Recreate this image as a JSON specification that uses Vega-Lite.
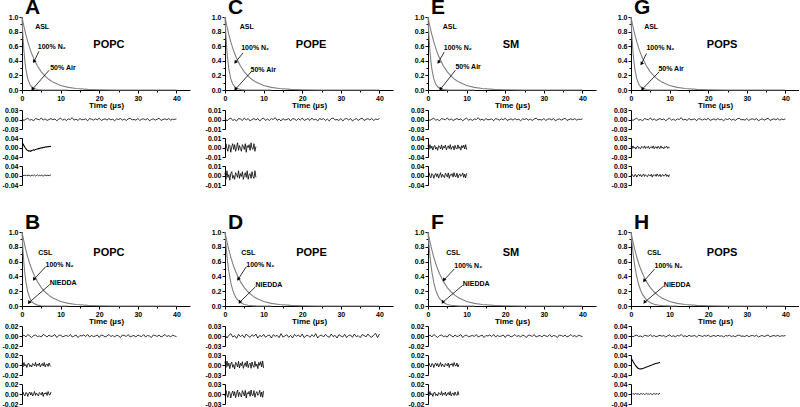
{
"$schema":"https://vega.github.io/schema/vega-lite/v6.json",
"padding":{"left":2,"top":-3,"right":0,"bottom":0},
"background":"white",
"config":{"view":{"stroke":null},
 "axis":{"labelFont":"Liberation Sans","labelFontWeight":"bold","labelFontSize":7,"labelColor":"#000","tickColor":"#000","domainColor":"#000","tickSize":3,"labelPadding":1,"grid":false,"labelFlush":false,"labelOverlap":false,"titleFont":"Liberation Sans","titleFontSize":8,"titleFontWeight":"bold","titleColor":"#000","domainWidth":1,"tickWidth":1},
 "title":{"font":"Liberation Sans","fontSize":21,"fontWeight":"bold","anchor":"start","frame":"group","color":"#000","offset":-5,"baseline":"alphabetic","dx":3},
 "text":{"font":"Liberation Sans","color":"#000"},
 "point":{"shape":"triangle-up","filled":true,"size":16,"angle":215,"color":"#000","opacity":1},
 "line":{"color":"#000","strokeWidth":0.8}},
"datasets":{
"curves":[
{"c":"n2","t":0,"v":1},{"c":"n2","t":0.25,"v":0.933},{"c":"n2","t":0.5,"v":0.87},{"c":"n2","t":0.75,"v":0.812},{"c":"n2","t":1,"v":0.757},{"c":"n2","t":1.5,"v":0.659},{"c":"n2","t":2,"v":0.574},{"c":"n2","t":2.5,"v":0.499},{"c":"n2","t":3,"v":0.435},{"c":"n2","t":4,"v":0.329},{"c":"n2","t":5,"v":0.249},{"c":"n2","t":6,"v":0.189},{"c":"n2","t":7,"v":0.143},{"c":"n2","t":8,"v":0.108},{"c":"n2","t":10,"v":0.062},{"c":"n2","t":12,"v":0.036},{"c":"n2","t":14,"v":0.02},{"c":"n2","t":17,"v":0.009},{"c":"n2","t":20,"v":0.004},{"c":"n2","t":25,"v":0.001},{"c":"n2","t":30,"v":0},{"c":"n2","t":35,"v":0},{"c":"n2","t":40,"v":0},
{"c":"air","t":0,"v":1},{"c":"air","t":0.25,"v":0.732},{"c":"air","t":0.5,"v":0.535},{"c":"air","t":0.75,"v":0.392},{"c":"air","t":1,"v":0.287},{"c":"air","t":1.5,"v":0.153},{"c":"air","t":2,"v":0.082},{"c":"air","t":2.5,"v":0.044},{"c":"air","t":3,"v":0.024},{"c":"air","t":4,"v":0.007},{"c":"air","t":5,"v":0.002},{"c":"air","t":6,"v":0.001},{"c":"air","t":8,"v":0},{"c":"air","t":12,"v":0},
{"c":"ni1","t":0,"v":1},{"c":"ni1","t":0.25,"v":0.757},{"c":"ni1","t":0.5,"v":0.574},{"c":"ni1","t":0.75,"v":0.435},{"c":"ni1","t":1,"v":0.329},{"c":"ni1","t":1.5,"v":0.189},{"c":"ni1","t":2,"v":0.108},{"c":"ni1","t":2.5,"v":0.062},{"c":"ni1","t":3,"v":0.036},{"c":"ni1","t":4,"v":0.012},{"c":"ni1","t":5,"v":0.004},{"c":"ni1","t":6,"v":0.001},{"c":"ni1","t":8,"v":0},{"c":"ni1","t":12,"v":0},
{"c":"ni2","t":0,"v":1},{"c":"ni2","t":0.25,"v":0.825},{"c":"ni2","t":0.5,"v":0.681},{"c":"ni2","t":0.75,"v":0.562},{"c":"ni2","t":1,"v":0.463},{"c":"ni2","t":1.5,"v":0.315},{"c":"ni2","t":2,"v":0.215},{"c":"ni2","t":2.5,"v":0.146},{"c":"ni2","t":3,"v":0.099},{"c":"ni2","t":4,"v":0.046},{"c":"ni2","t":5,"v":0.021},{"c":"ni2","t":6,"v":0.01},{"c":"ni2","t":7,"v":0.005},{"c":"ni2","t":8,"v":0.002},{"c":"ni2","t":10,"v":0},{"c":"ni2","t":12,"v":0},
{"c":"ni3","t":0,"v":1},{"c":"ni3","t":0.25,"v":0.855},{"c":"ni3","t":0.5,"v":0.732},{"c":"ni3","t":0.75,"v":0.626},{"c":"ni3","t":1,"v":0.535},{"c":"ni3","t":1.5,"v":0.392},{"c":"ni3","t":2,"v":0.287},{"c":"ni3","t":2.5,"v":0.21},{"c":"ni3","t":3,"v":0.153},{"c":"ni3","t":4,"v":0.082},{"c":"ni3","t":5,"v":0.044},{"c":"ni3","t":6,"v":0.024},{"c":"ni3","t":7,"v":0.013},{"c":"ni3","t":8,"v":0.007},{"c":"ni3","t":10,"v":0.002},{"c":"ni3","t":12,"v":0}
],
"L1":[{"t":0,"v":0.002},{"t":0.5,"v":-0.003},{"t":1,"v":0.001},{"t":1.5,"v":0.004},{"t":2,"v":-0.002},{"t":2.5,"v":0},{"t":3,"v":-0.004},{"t":3.5,"v":0.003},{"t":4,"v":0.001},{"t":4.5,"v":-0.001},{"t":5,"v":0.005},{"t":5.5,"v":-0.002},{"t":6,"v":0.002},{"t":6.5,"v":-0.003},{"t":7,"v":0},{"t":7.5,"v":0.003},{"t":8,"v":-0.001},{"t":8.5,"v":0.002},{"t":9,"v":-0.004},{"t":9.5,"v":0.001},{"t":10,"v":0.004},{"t":10.5,"v":-0.002},{"t":11,"v":0.001},{"t":11.5,"v":-0.003},{"t":12,"v":0.002},{"t":12.5,"v":0},{"t":13,"v":0.006},{"t":13.5,"v":-0.002},{"t":14,"v":0.001},{"t":14.5,"v":-0.003},{"t":15,"v":0.003},{"t":15.5,"v":-0.001},{"t":16,"v":0},{"t":16.5,"v":0.002},{"t":17,"v":-0.004},{"t":17.5,"v":0.003},{"t":18,"v":0.001},{"t":18.5,"v":-0.002},{"t":19,"v":0.002},{"t":19.5,"v":-0.001},{"t":20,"v":0.004},{"t":20.5,"v":-0.003},{"t":21,"v":0},{"t":21.5,"v":0.002},{"t":22,"v":-0.002},{"t":22.5,"v":0.003},{"t":23,"v":-0.001},{"t":23.5,"v":0.001},{"t":24,"v":-0.004},{"t":24.5,"v":0.002},{"t":25,"v":0},{"t":25.5,"v":0.003},{"t":26,"v":-0.002},{"t":26.5,"v":0.001},{"t":27,"v":-0.003},{"t":27.5,"v":0.002},{"t":28,"v":0.004},{"t":28.5,"v":-0.001},{"t":29,"v":0},{"t":29.5,"v":-0.002},{"t":30,"v":0.003},{"t":30.5,"v":-0.003},{"t":31,"v":0.001},{"t":31.5,"v":0.002},{"t":32,"v":-0.001},{"t":32.5,"v":0.003},{"t":33,"v":-0.004},{"t":33.5,"v":0},{"t":34,"v":0.002},{"t":34.5,"v":-0.002},{"t":35,"v":0.001},{"t":35.5,"v":0.004},{"t":36,"v":-0.003},{"t":36.5,"v":0},{"t":37,"v":0.002},{"t":37.5,"v":-0.001},{"t":38,"v":0.003},{"t":38.5,"v":-0.002},{"t":39,"v":0.001},{"t":39.5,"v":0},{"t":40,"v":0.002}],
"L2":[{"t":0,"v":-0.001},{"t":0.5,"v":0.002},{"t":1,"v":-0.002},{"t":1.5,"v":0.003},{"t":2,"v":0},{"t":2.5,"v":-0.003},{"t":3,"v":0.001},{"t":3.5,"v":0.002},{"t":4,"v":-0.001},{"t":4.5,"v":0},{"t":5,"v":-0.002},{"t":5.5,"v":0.003},{"t":6,"v":0.001},{"t":6.5,"v":-0.002},{"t":7,"v":0.002},{"t":7.5,"v":-0.001},{"t":8,"v":0},{"t":8.5,"v":0.003},{"t":9,"v":-0.003},{"t":9.5,"v":0.001},{"t":10,"v":0.002},{"t":10.5,"v":-0.002},{"t":11,"v":0},{"t":11.5,"v":0.001},{"t":12,"v":-0.001},{"t":12.5,"v":0.003},{"t":13,"v":-0.002},{"t":13.5,"v":0},{"t":14,"v":0.002},{"t":14.5,"v":-0.003},{"t":15,"v":0.001},{"t":15.5,"v":0},{"t":16,"v":0.002},{"t":16.5,"v":-0.001},{"t":17,"v":0.003},{"t":17.5,"v":-0.002},{"t":18,"v":0.001},{"t":18.5,"v":-0.001},{"t":19,"v":0},{"t":19.5,"v":0.002},{"t":20,"v":-0.003},{"t":20.5,"v":0.002},{"t":21,"v":0.001},{"t":21.5,"v":-0.002},{"t":22,"v":0},{"t":22.5,"v":0.003},{"t":23,"v":-0.001},{"t":23.5,"v":0.001},{"t":24,"v":-0.002},{"t":24.5,"v":0.002},{"t":25,"v":0},{"t":25.5,"v":-0.003},{"t":26,"v":0.002},{"t":26.5,"v":0.001},{"t":27,"v":-0.001},{"t":27.5,"v":0.003},{"t":28,"v":-0.002},{"t":28.5,"v":0},{"t":29,"v":0.001},{"t":29.5,"v":-0.002},{"t":30,"v":0.002},{"t":30.5,"v":0},{"t":31,"v":-0.001},{"t":31.5,"v":0.003},{"t":32,"v":-0.002},{"t":32.5,"v":0.001},{"t":33,"v":0},{"t":33.5,"v":-0.003},{"t":34,"v":0.002},{"t":34.5,"v":0.001},{"t":35,"v":-0.001},{"t":35.5,"v":0.002},{"t":36,"v":-0.002},{"t":36.5,"v":0},{"t":37,"v":0.003},{"t":37.5,"v":-0.001},{"t":38,"v":0.001},{"t":38.5,"v":-0.002},{"t":39,"v":0.002},{"t":39.5,"v":0},{"t":40,"v":-0.001}],
"L3":[{"t":0,"v":0.001},{"t":0.5,"v":-0.0015},{"t":1,"v":0.0005},{"t":1.5,"v":0.0015},{"t":2,"v":-0.001},{"t":2.5,"v":0},{"t":3,"v":-0.0015},{"t":3.5,"v":0.001},{"t":4,"v":0.0005},{"t":4.5,"v":-0.001},{"t":5,"v":0.0015},{"t":5.5,"v":-0.0005},{"t":6,"v":0.001},{"t":6.5,"v":-0.0015},{"t":7,"v":0},{"t":7.5,"v":0.001},{"t":8,"v":-0.0005},{"t":8.5,"v":0.001},{"t":9,"v":-0.0015},{"t":9.5,"v":0.0005},{"t":10,"v":0.0015},{"t":10.5,"v":-0.001},{"t":11,"v":0.0005},{"t":11.5,"v":-0.001},{"t":12,"v":0.001},{"t":12.5,"v":0},{"t":13,"v":0.002},{"t":13.5,"v":-0.001},{"t":14,"v":0.0005},{"t":14.5,"v":-0.0015},{"t":15,"v":0.001},{"t":15.5,"v":-0.0005},{"t":16,"v":0},{"t":16.5,"v":0.001},{"t":17,"v":-0.0015},{"t":17.5,"v":0.001},{"t":18,"v":0.0005},{"t":18.5,"v":-0.001},{"t":19,"v":0.001},{"t":19.5,"v":-0.0005},{"t":20,"v":0.0015},{"t":20.5,"v":-0.001},{"t":21,"v":0},{"t":21.5,"v":0.001},{"t":22,"v":-0.001},{"t":22.5,"v":0.0015},{"t":23,"v":-0.0005},{"t":23.5,"v":0.0005},{"t":24,"v":-0.0015},{"t":24.5,"v":0.001},{"t":25,"v":0},{"t":25.5,"v":0.001},{"t":26,"v":-0.001},{"t":26.5,"v":0.0005},{"t":27,"v":-0.0015},{"t":27.5,"v":0.001},{"t":28,"v":0.0015},{"t":28.5,"v":-0.0005},{"t":29,"v":0},{"t":29.5,"v":-0.001},{"t":30,"v":0.001},{"t":30.5,"v":-0.0015},{"t":31,"v":0.0005},{"t":31.5,"v":0.001},{"t":32,"v":-0.0005},{"t":32.5,"v":0.001},{"t":33,"v":-0.0015},{"t":33.5,"v":0},{"t":34,"v":0.001},{"t":34.5,"v":-0.001},{"t":35,"v":0.0005},{"t":35.5,"v":0.0015},{"t":36,"v":-0.001},{"t":36.5,"v":0},{"t":37,"v":0.001},{"t":37.5,"v":-0.0005},{"t":38,"v":0.001},{"t":38.5,"v":-0.001},{"t":39,"v":0.0005},{"t":39.5,"v":0},{"t":40,"v":0.001}],
"L4":[{"t":0,"v":0.004},{"t":0.5,"v":-0.006},{"t":1,"v":0.002},{"t":1.5,"v":0.007},{"t":2,"v":-0.003},{"t":2.5,"v":0.001},{"t":3,"v":-0.007},{"t":3.5,"v":0.005},{"t":4,"v":-0.002},{"t":4.5,"v":0.003},{"t":5,"v":-0.005},{"t":5.5,"v":0.006},{"t":6,"v":0},{"t":6.5,"v":-0.004},{"t":7,"v":0.004},{"t":7.5,"v":-0.001},{"t":8,"v":0.006},{"t":8.5,"v":-0.006},{"t":9,"v":0.002},{"t":9.5,"v":-0.002},{"t":10,"v":0.005},{"t":10.5,"v":-0.004},{"t":11,"v":0.001},{"t":11.5,"v":0.003},{"t":12,"v":-0.006},{"t":12.5,"v":0.004},{"t":13,"v":-0.001},{"t":13.5,"v":0.002},{"t":14,"v":-0.005},{"t":14.5,"v":0.007},{"t":15,"v":-0.003},{"t":15.5,"v":0},{"t":16,"v":0.004},{"t":16.5,"v":-0.004},{"t":17,"v":0.002},{"t":17.5,"v":-0.006},{"t":18,"v":0.005},{"t":18.5,"v":-0.001},{"t":19,"v":0.003},{"t":19.5,"v":-0.003},{"t":20,"v":0.006},{"t":20.5,"v":-0.005},{"t":21,"v":0.001},{"t":21.5,"v":0.002},{"t":22,"v":-0.004},{"t":22.5,"v":0.004},{"t":23,"v":-0.002},{"t":23.5,"v":0.007},{"t":24,"v":-0.006},{"t":24.5,"v":0.001},{"t":25,"v":0.003},{"t":25.5,"v":-0.003},{"t":26,"v":0.005},{"t":26.5,"v":-0.001},{"t":27,"v":-0.004},{"t":27.5,"v":0.006},{"t":28,"v":-0.002},{"t":28.5,"v":0.002},{"t":29,"v":-0.006},{"t":29.5,"v":0.004},{"t":30,"v":0},{"t":30.5,"v":-0.003},{"t":31,"v":0.005},{"t":31.5,"v":-0.005},{"t":32,"v":0.002},{"t":32.5,"v":0.003},{"t":33,"v":-0.004},{"t":33.5,"v":0.006},{"t":34,"v":-0.002},{"t":34.5,"v":0.001},{"t":35,"v":-0.005},{"t":35.5,"v":0.004},{"t":36,"v":0.002},{"t":36.5,"v":-0.003},{"t":37,"v":0.006},{"t":37.5,"v":-0.001},{"t":38,"v":-0.004},{"t":38.5,"v":0.003},{"t":39,"v":0.008},{"t":39.5,"v":-0.005},{"t":40,"v":0.006}],
"S1":[{"t":0,"v":0.003},{"t":0.25,"v":-0.004},{"t":0.5,"v":0.005},{"t":0.75,"v":-0.002},{"t":1,"v":0.001},{"t":1.25,"v":-0.005},{"t":1.5,"v":0.002},{"t":1.75,"v":0.004},{"t":2,"v":-0.003},{"t":2.25,"v":0},{"t":2.5,"v":-0.004},{"t":2.75,"v":0.003},{"t":3,"v":0.001},{"t":3.25,"v":-0.002},{"t":3.5,"v":0.005},{"t":3.75,"v":-0.003},{"t":4,"v":0.002},{"t":4.25,"v":-0.001},{"t":4.5,"v":0.004},{"t":4.75,"v":-0.004},{"t":5,"v":0},{"t":5.25,"v":0.003},{"t":5.5,"v":-0.002},{"t":5.75,"v":0.005},{"t":6,"v":-0.004},{"t":6.25,"v":0.001},{"t":6.5,"v":0.002},{"t":6.75,"v":-0.003},{"t":7,"v":0.004},{"t":7.25,"v":-0.001},{"t":7.5,"v":-0.003},{"t":7.75,"v":0.005},{"t":8,"v":-0.002},{"t":8.25,"v":0.001},{"t":8.5,"v":-0.004},{"t":8.75,"v":0.003},{"t":9,"v":0},{"t":9.25,"v":0.004},{"t":9.5,"v":-0.003},{"t":9.75,"v":0.002},{"t":10,"v":-0.001}],
"S2":[{"t":0,"v":-0.002},{"t":0.25,"v":0.004},{"t":0.5,"v":-0.001},{"t":0.75,"v":-0.004},{"t":1,"v":0.003},{"t":1.25,"v":0.002},{"t":1.5,"v":-0.005},{"t":1.75,"v":0.001},{"t":2,"v":0.004},{"t":2.25,"v":-0.002},{"t":2.5,"v":0.003},{"t":2.75,"v":-0.004},{"t":3,"v":0},{"t":3.25,"v":0.005},{"t":3.5,"v":-0.003},{"t":3.75,"v":0.002},{"t":4,"v":-0.001},{"t":4.25,"v":-0.004},{"t":4.5,"v":0.003},{"t":4.75,"v":0.001},{"t":5,"v":-0.002},{"t":5.25,"v":0.004},{"t":5.5,"v":-0.005},{"t":5.75,"v":0.002},{"t":6,"v":0},{"t":6.25,"v":0.003},{"t":6.5,"v":-0.003},{"t":6.75,"v":0.005},{"t":7,"v":-0.001},{"t":7.25,"v":-0.002},{"t":7.5,"v":0.004},{"t":7.75,"v":-0.004},{"t":8,"v":0.001},{"t":8.25,"v":0.003},{"t":8.5,"v":-0.002},{"t":8.75,"v":0},{"t":9,"v":0.005},{"t":9.25,"v":-0.003},{"t":9.5,"v":0.002},{"t":9.75,"v":-0.004},{"t":10,"v":0.003}],
"S5":[{"t":0,"v":0.01},{"t":0.25,"v":-0.008},{"t":0.5,"v":0.012},{"t":0.75,"v":-0.004},{"t":1,"v":0.006},{"t":1.25,"v":-0.011},{"t":1.5,"v":0.003},{"t":1.75,"v":0.009},{"t":2,"v":-0.007},{"t":2.25,"v":0.001},{"t":2.5,"v":-0.012},{"t":2.75,"v":0.008},{"t":3,"v":0.004},{"t":3.25,"v":-0.006},{"t":3.5,"v":0.011},{"t":3.75,"v":-0.009},{"t":4,"v":0.005},{"t":4.25,"v":-0.002},{"t":4.5,"v":0.01},{"t":4.75,"v":-0.01},{"t":5,"v":0},{"t":5.25,"v":0.007},{"t":5.5,"v":-0.005},{"t":5.75,"v":0.012},{"t":6,"v":-0.008},{"t":6.25,"v":0.002},{"t":6.5,"v":0.006},{"t":6.75,"v":-0.01},{"t":7,"v":0.009},{"t":7.25,"v":-0.003},{"t":7.5,"v":-0.007},{"t":7.75,"v":0.011},{"t":8,"v":-0.004},{"t":8.25,"v":0.003},{"t":8.5,"v":-0.011},{"t":8.75,"v":0.008},{"t":9,"v":-0.001},{"t":9.25,"v":0.01},{"t":9.5,"v":-0.006},{"t":9.75,"v":0.012},{"t":10,"v":-0.009}],
"S6":[{"t":0,"v":-0.006},{"t":0.25,"v":0.011},{"t":0.5,"v":-0.003},{"t":0.75,"v":-0.01},{"t":1,"v":0.008},{"t":1.25,"v":0.004},{"t":1.5,"v":-0.012},{"t":1.75,"v":0.002},{"t":2,"v":0.009},{"t":2.25,"v":-0.005},{"t":2.5,"v":0.007},{"t":2.75,"v":-0.011},{"t":3,"v":0.001},{"t":3.25,"v":0.012},{"t":3.5,"v":-0.008},{"t":3.75,"v":0.005},{"t":4,"v":-0.002},{"t":4.25,"v":-0.009},{"t":4.5,"v":0.01},{"t":4.75,"v":0.003},{"t":5,"v":-0.006},{"t":5.25,"v":0.011},{"t":5.5,"v":-0.012},{"t":5.75,"v":0.004},{"t":6,"v":0},{"t":6.25,"v":0.008},{"t":6.5,"v":-0.007},{"t":6.75,"v":0.012},{"t":7,"v":-0.003},{"t":7.25,"v":-0.005},{"t":7.5,"v":0.01},{"t":7.75,"v":-0.01},{"t":8,"v":0.002},{"t":8.25,"v":0.007},{"t":8.5,"v":-0.004},{"t":8.75,"v":0.001},{"t":9,"v":0.011},{"t":9.25,"v":-0.008},{"t":9.5,"v":0.006},{"t":9.75,"v":-0.01},{"t":10,"v":0.009}],
"S7":[{"t":0,"v":0.001},{"t":0.25,"v":-0.002},{"t":0.5,"v":0.002},{"t":0.75,"v":0},{"t":1,"v":-0.001},{"t":1.25,"v":0.003},{"t":1.5,"v":-0.002},{"t":1.75,"v":0.001},{"t":2,"v":0},{"t":2.25,"v":-0.003},{"t":2.5,"v":0.002},{"t":2.75,"v":0.001},{"t":3,"v":-0.001},{"t":3.25,"v":0.002},{"t":3.5,"v":-0.002},{"t":3.75,"v":0},{"t":4,"v":0.003},{"t":4.25,"v":-0.001},{"t":4.5,"v":0.001},{"t":4.75,"v":-0.002},{"t":5,"v":0.002},{"t":5.25,"v":0},{"t":5.5,"v":-0.003},{"t":5.75,"v":0.001},{"t":6,"v":0.002},{"t":6.25,"v":-0.001},{"t":6.5,"v":0},{"t":6.75,"v":0.002},{"t":7,"v":-0.002},{"t":7.25,"v":0.001},{"t":7.5,"v":0.003}],
"W1":[{"t":0,"v":0.02},{"t":0.25,"v":0.015},{"t":0.5,"v":0.008},{"t":0.75,"v":0.001},{"t":1,"v":-0.005},{"t":1.25,"v":-0.01},{"t":1.5,"v":-0.013},{"t":1.75,"v":-0.015},{"t":2,"v":-0.014},{"t":2.25,"v":-0.016},{"t":2.5,"v":-0.013},{"t":2.75,"v":-0.012},{"t":3,"v":-0.01},{"t":3.25,"v":-0.011},{"t":3.5,"v":-0.008},{"t":3.75,"v":-0.007},{"t":4,"v":-0.006},{"t":4.25,"v":-0.004},{"t":4.5,"v":-0.005},{"t":4.75,"v":-0.002},{"t":5,"v":-0.001},{"t":5.25,"v":-0.002},{"t":5.5,"v":0.001},{"t":5.75,"v":0},{"t":6,"v":0.002},{"t":6.25,"v":0.003},{"t":6.5,"v":0.002},{"t":6.75,"v":0.004},{"t":7,"v":0.003},{"t":7.25,"v":0.005},{"t":7.5,"v":0.004}],
"W2":[{"t":0,"v":0.026},{"t":0.25,"v":0.022},{"t":0.5,"v":0.015},{"t":0.75,"v":0.008},{"t":1,"v":0.002},{"t":1.25,"v":-0.004},{"t":1.5,"v":-0.008},{"t":1.75,"v":-0.012},{"t":2,"v":-0.014},{"t":2.25,"v":-0.016},{"t":2.5,"v":-0.015},{"t":2.75,"v":-0.016},{"t":3,"v":-0.014},{"t":3.25,"v":-0.013},{"t":3.5,"v":-0.011},{"t":3.75,"v":-0.01},{"t":4,"v":-0.008},{"t":4.25,"v":-0.007},{"t":4.5,"v":-0.005},{"t":4.75,"v":-0.004},{"t":5,"v":-0.002},{"t":5.25,"v":-0.001},{"t":5.5,"v":0.001},{"t":5.75,"v":0.002},{"t":6,"v":0.004},{"t":6.25,"v":0.005},{"t":6.5,"v":0.006},{"t":6.75,"v":0.007},{"t":7,"v":0.008},{"t":7.25,"v":0.009},{"t":7.5,"v":0.01}]
},
"bounds":"flush","columns":4,"spacing":{"row":0,"column":35},
"concat":[
  {"width":168,"height":73,"title":{"text":"A"},"resolve":{"axis":{"x":"independent","y":"independent"}},"layer":[
   {"data":{"name":"curves"},"transform":[{"filter":"datum.c=='n2'||datum.c=='air'"}],"mark":{"type":"line","color":"#808080","strokeWidth":1.1},"encoding":{"x":{"field":"t","type":"quantitative","scale":{"domain":[0,43.5],"nice":false},"axis":{"values":[0,10,20,30,40],"format":"d","title":"Time (µs)","titlePadding":0}},"y":{"field":"v","type":"quantitative","scale":{"domain":[0,1],"nice":false},"axis":{"values":[0,0.2,0.4,0.6,0.8,1],"format":".1f","title":null}},"detail":{"field":"c"}}},
   {"data":{"values":[{"x":4.4,"y":0.53,"x2":3.1,"y2":0.39},{"x":7.0,"y":0.27,"x2":2.7,"y2":0.01}]},"mark":{"type":"rule","color":"#000","strokeWidth":0.8},"encoding":{"x":{"field":"x","type":"quantitative","axis":{"values":[5,15,25,35],"labels":false,"domain":false,"tickSize":2,"title":null,"orient":"bottom"}},"y":{"field":"y","type":"quantitative","axis":{"values":[0.1,0.3,0.5,0.7,0.9],"labels":false,"domain":false,"tickSize":2,"title":null,"orient":"left"}},"x2":{"field":"x2"},"y2":{"field":"y2"}}},
   {"data":{"values":[{"x":3.1,"y":0.39},{"x":2.7,"y":0.01}]},"mark":"point","encoding":{"x":{"field":"x","type":"quantitative","axis":null},"y":{"field":"y","type":"quantitative","axis":null}}},
   {"data":{"values":[{"x":3.4,"y":0.86,"s":"ASL"},{"x":4.1,"y":0.59,"s":"100% N₂"},{"x":7.3,"y":0.3,"s":"50% Air"}]},"mark":{"type":"text","align":"left","fontSize":7,"fontWeight":"bold"},"encoding":{"x":{"field":"x","type":"quantitative","axis":null},"y":{"field":"y","type":"quantitative","axis":null},"text":{"field":"s"}}},
   {"data":{"values":[{"x":22.5,"y":0.62,"s":"POPC"}]},"mark":{"type":"text","fontSize":11,"fontWeight":"bold"},"encoding":{"x":{"field":"x","type":"quantitative","axis":null},"y":{"field":"y","type":"quantitative","axis":null},"text":{"field":"s"}}}
  ]},
  {"width":168,"height":73,"title":{"text":"C"},"resolve":{"axis":{"x":"independent","y":"independent"}},"layer":[
   {"data":{"name":"curves"},"transform":[{"filter":"datum.c=='n2'||datum.c=='air'"}],"mark":{"type":"line","color":"#808080","strokeWidth":1.1},"encoding":{"x":{"field":"t","type":"quantitative","scale":{"domain":[0,43.5],"nice":false},"axis":{"values":[0,10,20,30,40],"format":"d","title":"Time (µs)","titlePadding":0}},"y":{"field":"v","type":"quantitative","scale":{"domain":[0,1],"nice":false},"axis":{"values":[0,0.2,0.4,0.6,0.8,1],"format":".1f","title":null}},"detail":{"field":"c"}}},
   {"data":{"values":[{"x":4.7,"y":0.51,"x2":2.7,"y2":0.38},{"x":6.8,"y":0.25,"x2":2.7,"y2":0.01}]},"mark":{"type":"rule","color":"#000","strokeWidth":0.8},"encoding":{"x":{"field":"x","type":"quantitative","axis":{"values":[5,15,25,35],"labels":false,"domain":false,"tickSize":2,"title":null,"orient":"bottom"}},"y":{"field":"y","type":"quantitative","axis":{"values":[0.1,0.3,0.5,0.7,0.9],"labels":false,"domain":false,"tickSize":2,"title":null,"orient":"left"}},"x2":{"field":"x2"},"y2":{"field":"y2"}}},
   {"data":{"values":[{"x":2.7,"y":0.38},{"x":2.7,"y":0.01}]},"mark":"point","encoding":{"x":{"field":"x","type":"quantitative","axis":null},"y":{"field":"y","type":"quantitative","axis":null}}},
   {"data":{"values":[{"x":3.8,"y":0.86,"s":"ASL"},{"x":4.2,"y":0.57,"s":"100% N₂"},{"x":6.6,"y":0.27,"s":"50% Air"}]},"mark":{"type":"text","align":"left","fontSize":7,"fontWeight":"bold"},"encoding":{"x":{"field":"x","type":"quantitative","axis":null},"y":{"field":"y","type":"quantitative","axis":null},"text":{"field":"s"}}},
   {"data":{"values":[{"x":22.3,"y":0.62,"s":"POPE"}]},"mark":{"type":"text","fontSize":11,"fontWeight":"bold"},"encoding":{"x":{"field":"x","type":"quantitative","axis":null},"y":{"field":"y","type":"quantitative","axis":null},"text":{"field":"s"}}}
  ]},
  {"width":168,"height":73,"title":{"text":"E"},"resolve":{"axis":{"x":"independent","y":"independent"}},"layer":[
   {"data":{"name":"curves"},"transform":[{"filter":"datum.c=='n2'||datum.c=='air'"}],"mark":{"type":"line","color":"#808080","strokeWidth":1.1},"encoding":{"x":{"field":"t","type":"quantitative","scale":{"domain":[0,43.5],"nice":false},"axis":{"values":[0,10,20,30,40],"format":"d","title":"Time (µs)","titlePadding":0}},"y":{"field":"v","type":"quantitative","scale":{"domain":[0,1],"nice":false},"axis":{"values":[0,0.2,0.4,0.6,0.8,1],"format":".1f","title":null}},"detail":{"field":"c"}}},
   {"data":{"values":[{"x":4.2,"y":0.52,"x2":2.7,"y2":0.38},{"x":7.1,"y":0.27,"x2":3.2,"y2":0.01}]},"mark":{"type":"rule","color":"#000","strokeWidth":0.8},"encoding":{"x":{"field":"x","type":"quantitative","axis":{"values":[5,15,25,35],"labels":false,"domain":false,"tickSize":2,"title":null,"orient":"bottom"}},"y":{"field":"y","type":"quantitative","axis":{"values":[0.1,0.3,0.5,0.7,0.9],"labels":false,"domain":false,"tickSize":2,"title":null,"orient":"left"}},"x2":{"field":"x2"},"y2":{"field":"y2"}}},
   {"data":{"values":[{"x":2.7,"y":0.38},{"x":3.2,"y":0.01}]},"mark":"point","encoding":{"x":{"field":"x","type":"quantitative","axis":null},"y":{"field":"y","type":"quantitative","axis":null}}},
   {"data":{"values":[{"x":3.8,"y":0.86,"s":"ASL"},{"x":4.1,"y":0.57,"s":"100% N₂"},{"x":7.1,"y":0.31,"s":"50% Air"}]},"mark":{"type":"text","align":"left","fontSize":7,"fontWeight":"bold"},"encoding":{"x":{"field":"x","type":"quantitative","axis":null},"y":{"field":"y","type":"quantitative","axis":null},"text":{"field":"s"}}},
   {"data":{"values":[{"x":21.5,"y":0.62,"s":"SM"}]},"mark":{"type":"text","fontSize":11,"fontWeight":"bold"},"encoding":{"x":{"field":"x","type":"quantitative","axis":null},"y":{"field":"y","type":"quantitative","axis":null},"text":{"field":"s"}}}
  ]},
  {"width":168,"height":73,"title":{"text":"G"},"resolve":{"axis":{"x":"independent","y":"independent"}},"layer":[
   {"data":{"name":"curves"},"transform":[{"filter":"datum.c=='n2'||datum.c=='air'"}],"mark":{"type":"line","color":"#808080","strokeWidth":1.1},"encoding":{"x":{"field":"t","type":"quantitative","scale":{"domain":[0,43.5],"nice":false},"axis":{"values":[0,10,20,30,40],"format":"d","title":"Time (µs)","titlePadding":0}},"y":{"field":"v","type":"quantitative","scale":{"domain":[0,1],"nice":false},"axis":{"values":[0,0.2,0.4,0.6,0.8,1],"format":".1f","title":null}},"detail":{"field":"c"}}},
   {"data":{"values":[{"x":4.0,"y":0.5,"x2":2.7,"y2":0.36},{"x":7.3,"y":0.25,"x2":2.9,"y2":0.01}]},"mark":{"type":"rule","color":"#000","strokeWidth":0.8},"encoding":{"x":{"field":"x","type":"quantitative","axis":{"values":[5,15,25,35],"labels":false,"domain":false,"tickSize":2,"title":null,"orient":"bottom"}},"y":{"field":"y","type":"quantitative","axis":{"values":[0.1,0.3,0.5,0.7,0.9],"labels":false,"domain":false,"tickSize":2,"title":null,"orient":"left"}},"x2":{"field":"x2"},"y2":{"field":"y2"}}},
   {"data":{"values":[{"x":2.7,"y":0.36},{"x":2.9,"y":0.01}]},"mark":"point","encoding":{"x":{"field":"x","type":"quantitative","axis":null},"y":{"field":"y","type":"quantitative","axis":null}}},
   {"data":{"values":[{"x":3.4,"y":0.86,"s":"ASL"},{"x":4.0,"y":0.57,"s":"100% N₂"},{"x":7.1,"y":0.29,"s":"50% Air"}]},"mark":{"type":"text","align":"left","fontSize":7,"fontWeight":"bold"},"encoding":{"x":{"field":"x","type":"quantitative","axis":null},"y":{"field":"y","type":"quantitative","axis":null},"text":{"field":"s"}}},
   {"data":{"values":[{"x":23.6,"y":0.62,"s":"POPS"}]},"mark":{"type":"text","fontSize":11,"fontWeight":"bold"},"encoding":{"x":{"field":"x","type":"quantitative","axis":null},"y":{"field":"y","type":"quantitative","axis":null},"text":{"field":"s"}}}
  ]},
  {"width":168,"height":39,"data":{"name":"L1"},"mark":"line","encoding":{"x":{"field":"t","type":"quantitative","scale":{"domain":[0,43.5],"nice":false},"axis":null},"y":{"field":"v","type":"quantitative","scale":{"domain":[-0.03,0.03],"nice":false,"range":[39,20]},"axis":{"values":[-0.03,0,0.03],"labelExpr":"(datum.value<0?'-':'')+format(abs(datum.value),'.2f')","title":null}}}},
  {"width":168,"height":39,"data":{"name":"L3"},"mark":"line","encoding":{"x":{"field":"t","type":"quantitative","scale":{"domain":[0,43.5],"nice":false},"axis":null},"y":{"field":"v","type":"quantitative","scale":{"domain":[-0.01,0.01],"nice":false,"range":[39,20]},"axis":{"values":[-0.01,0,0.01],"labelExpr":"(datum.value<0?'-':'')+format(abs(datum.value),'.2f')","title":null}}}},
  {"width":168,"height":39,"data":{"name":"L1"},"mark":"line","encoding":{"x":{"field":"t","type":"quantitative","scale":{"domain":[0,43.5],"nice":false},"axis":null},"y":{"field":"v","type":"quantitative","scale":{"domain":[-0.03,0.03],"nice":false,"range":[39,20]},"axis":{"values":[-0.03,0,0.03],"labelExpr":"(datum.value<0?'-':'')+format(abs(datum.value),'.2f')","title":null}}}},
  {"width":168,"height":39,"data":{"name":"L1"},"mark":"line","encoding":{"x":{"field":"t","type":"quantitative","scale":{"domain":[0,43.5],"nice":false},"axis":null},"y":{"field":"v","type":"quantitative","scale":{"domain":[-0.03,0.03],"nice":false,"range":[39,20]},"axis":{"values":[-0.03,0,0.03],"labelExpr":"(datum.value<0?'-':'')+format(abs(datum.value),'.2f')","title":null}}}},
  {"width":168,"height":28,"data":{"name":"W1"},"mark":{"type":"line","strokeWidth":1.1},"encoding":{"x":{"field":"t","type":"quantitative","scale":{"domain":[0,43.5],"nice":false},"axis":null},"y":{"field":"v","type":"quantitative","scale":{"domain":[-0.04,0.04],"nice":false,"range":[28,9]},"axis":{"values":[-0.04,0,0.04],"labelExpr":"(datum.value<0?'-':'')+format(abs(datum.value),'.2f')","title":null}}}},
  {"width":168,"height":28,"data":{"name":"S2"},"transform":[{"filter":"datum.t<=8"}],"mark":"line","encoding":{"x":{"field":"t","type":"quantitative","scale":{"domain":[0,43.5],"nice":false},"axis":null},"y":{"field":"v","type":"quantitative","scale":{"domain":[-0.01,0.01],"nice":false,"range":[28,9]},"axis":{"values":[-0.01,0,0.01],"labelExpr":"(datum.value<0?'-':'')+format(abs(datum.value),'.2f')","title":null}}}},
  {"width":168,"height":28,"data":{"name":"S5"},"mark":"line","encoding":{"x":{"field":"t","type":"quantitative","scale":{"domain":[0,43.5],"nice":false},"axis":null},"y":{"field":"v","type":"quantitative","scale":{"domain":[-0.04,0.04],"nice":false,"range":[28,9]},"axis":{"values":[-0.04,0,0.04],"labelExpr":"(datum.value<0?'-':'')+format(abs(datum.value),'.2f')","title":null}}}},
  {"width":168,"height":28,"data":{"name":"S1"},"mark":"line","encoding":{"x":{"field":"t","type":"quantitative","scale":{"domain":[0,43.5],"nice":false},"axis":null},"y":{"field":"v","type":"quantitative","scale":{"domain":[-0.03,0.03],"nice":false,"range":[28,9]},"axis":{"values":[-0.03,0,0.03],"labelExpr":"(datum.value<0?'-':'')+format(abs(datum.value),'.2f')","title":null}}}},
  {"width":168,"height":28,"data":{"name":"S7"},"mark":"line","encoding":{"x":{"field":"t","type":"quantitative","scale":{"domain":[0,43.5],"nice":false},"axis":null},"y":{"field":"v","type":"quantitative","scale":{"domain":[-0.04,0.04],"nice":false,"range":[28,9]},"axis":{"values":[-0.04,0,0.04],"labelExpr":"(datum.value<0?'-':'')+format(abs(datum.value),'.2f')","title":null}}}},
  {"width":168,"height":28,"data":{"name":"S1"},"transform":[{"filter":"datum.t<=8"}],"mark":"line","encoding":{"x":{"field":"t","type":"quantitative","scale":{"domain":[0,43.5],"nice":false},"axis":null},"y":{"field":"v","type":"quantitative","scale":{"domain":[-0.01,0.01],"nice":false,"range":[28,9]},"axis":{"values":[-0.01,0,0.01],"labelExpr":"(datum.value<0?'-':'')+format(abs(datum.value),'.2f')","title":null}}}},
  {"width":168,"height":28,"data":{"name":"S6"},"mark":"line","encoding":{"x":{"field":"t","type":"quantitative","scale":{"domain":[0,43.5],"nice":false},"axis":null},"y":{"field":"v","type":"quantitative","scale":{"domain":[-0.04,0.04],"nice":false,"range":[28,9]},"axis":{"values":[-0.04,0,0.04],"labelExpr":"(datum.value<0?'-':'')+format(abs(datum.value),'.2f')","title":null}}}},
  {"width":168,"height":28,"data":{"name":"S2"},"mark":"line","encoding":{"x":{"field":"t","type":"quantitative","scale":{"domain":[0,43.5],"nice":false},"axis":null},"y":{"field":"v","type":"quantitative","scale":{"domain":[-0.03,0.03],"nice":false,"range":[28,9]},"axis":{"values":[-0.03,0,0.03],"labelExpr":"(datum.value<0?'-':'')+format(abs(datum.value),'.2f')","title":null}}}},
  {"width":168,"height":121,"title":{"text":"B","dy":43},"resolve":{"axis":{"x":"independent","y":"independent"}},"layer":[
   {"data":{"name":"curves"},"transform":[{"filter":"datum.c=='n2'||datum.c=='ni1'"}],"mark":{"type":"line","color":"#808080","strokeWidth":1.1},"encoding":{"x":{"field":"t","type":"quantitative","scale":{"domain":[0,43.5],"nice":false},"axis":{"values":[0,10,20,30,40],"format":"d","title":"Time (µs)","titlePadding":0}},"y":{"field":"v","type":"quantitative","scale":{"domain":[0,1],"nice":false,"range":[121,47]},"axis":{"values":[0,0.2,0.4,0.6,0.8,1],"format":".1f","title":null}},"detail":{"field":"c"}}},
   {"data":{"values":[{"x":6.1,"y":0.53,"x2":3.1,"y2":0.36},{"x":7.2,"y":0.29,"x2":1.8,"y2":0.045}]},"mark":{"type":"rule","color":"#000","strokeWidth":0.8},"encoding":{"x":{"field":"x","type":"quantitative","axis":{"values":[5,15,25,35],"labels":false,"domain":false,"tickSize":2,"title":null,"orient":"bottom"}},"y":{"field":"y","type":"quantitative","axis":{"values":[0.1,0.3,0.5,0.7,0.9],"labels":false,"domain":false,"tickSize":2,"title":null,"orient":"left"}},"x2":{"field":"x2"},"y2":{"field":"y2"}}},
   {"data":{"values":[{"x":3.1,"y":0.36},{"x":1.8,"y":0.045}]},"mark":"point","encoding":{"x":{"field":"x","type":"quantitative","axis":null},"y":{"field":"y","type":"quantitative","axis":null}}},
   {"data":{"values":[{"x":4.2,"y":0.72,"s":"CSL"},{"x":6.1,"y":0.55,"s":"100% N₂"},{"x":7.2,"y":0.31,"s":"NIEDDA"}]},"mark":{"type":"text","align":"left","fontSize":7,"fontWeight":"bold"},"encoding":{"x":{"field":"x","type":"quantitative","axis":null},"y":{"field":"y","type":"quantitative","axis":null},"text":{"field":"s"}}},
   {"data":{"values":[{"x":22.5,"y":0.71,"s":"POPC"}]},"mark":{"type":"text","fontSize":11,"fontWeight":"bold"},"encoding":{"x":{"field":"x","type":"quantitative","axis":null},"y":{"field":"y","type":"quantitative","axis":null},"text":{"field":"s"}}}
  ]},
  {"width":168,"height":121,"title":{"text":"D","dy":43},"resolve":{"axis":{"x":"independent","y":"independent"}},"layer":[
   {"data":{"name":"curves"},"transform":[{"filter":"datum.c=='n2'||datum.c=='ni2'"}],"mark":{"type":"line","color":"#808080","strokeWidth":1.1},"encoding":{"x":{"field":"t","type":"quantitative","scale":{"domain":[0,43.5],"nice":false},"axis":{"values":[0,10,20,30,40],"format":"d","title":"Time (µs)","titlePadding":0}},"y":{"field":"v","type":"quantitative","scale":{"domain":[0,1],"nice":false,"range":[121,47]},"axis":{"values":[0,0.2,0.4,0.6,0.8,1],"format":".1f","title":null}},"detail":{"field":"c"}}},
   {"data":{"values":[{"x":5.5,"y":0.53,"x2":3.4,"y2":0.36},{"x":7.9,"y":0.26,"x2":3.8,"y2":0.05}]},"mark":{"type":"rule","color":"#000","strokeWidth":0.8},"encoding":{"x":{"field":"x","type":"quantitative","axis":{"values":[5,15,25,35],"labels":false,"domain":false,"tickSize":2,"title":null,"orient":"bottom"}},"y":{"field":"y","type":"quantitative","axis":{"values":[0.1,0.3,0.5,0.7,0.9],"labels":false,"domain":false,"tickSize":2,"title":null,"orient":"left"}},"x2":{"field":"x2"},"y2":{"field":"y2"}}},
   {"data":{"values":[{"x":3.4,"y":0.36},{"x":3.8,"y":0.05}]},"mark":"point","encoding":{"x":{"field":"x","type":"quantitative","axis":null},"y":{"field":"y","type":"quantitative","axis":null}}},
   {"data":{"values":[{"x":4.2,"y":0.71,"s":"CSL"},{"x":5.5,"y":0.56,"s":"100% N₂"},{"x":7.9,"y":0.29,"s":"NIEDDA"}]},"mark":{"type":"text","align":"left","fontSize":7,"fontWeight":"bold"},"encoding":{"x":{"field":"x","type":"quantitative","axis":null},"y":{"field":"y","type":"quantitative","axis":null},"text":{"field":"s"}}},
   {"data":{"values":[{"x":22.4,"y":0.71,"s":"POPE"}]},"mark":{"type":"text","fontSize":11,"fontWeight":"bold"},"encoding":{"x":{"field":"x","type":"quantitative","axis":null},"y":{"field":"y","type":"quantitative","axis":null},"text":{"field":"s"}}}
  ]},
  {"width":168,"height":121,"title":{"text":"F","dy":43},"resolve":{"axis":{"x":"independent","y":"independent"}},"layer":[
   {"data":{"name":"curves"},"transform":[{"filter":"datum.c=='n2'||datum.c=='ni2'"}],"mark":{"type":"line","color":"#808080","strokeWidth":1.1},"encoding":{"x":{"field":"t","type":"quantitative","scale":{"domain":[0,43.5],"nice":false},"axis":{"values":[0,10,20,30,40],"format":"d","title":"Time (µs)","titlePadding":0}},"y":{"field":"v","type":"quantitative","scale":{"domain":[0,1],"nice":false,"range":[121,47]},"axis":{"values":[0,0.2,0.4,0.6,0.8,1],"format":".1f","title":null}},"detail":{"field":"c"}}},
   {"data":{"values":[{"x":6.8,"y":0.5,"x2":4.1,"y2":0.35},{"x":9.0,"y":0.28,"x2":3.8,"y2":0.05}]},"mark":{"type":"rule","color":"#000","strokeWidth":0.8},"encoding":{"x":{"field":"x","type":"quantitative","axis":{"values":[5,15,25,35],"labels":false,"domain":false,"tickSize":2,"title":null,"orient":"bottom"}},"y":{"field":"y","type":"quantitative","axis":{"values":[0.1,0.3,0.5,0.7,0.9],"labels":false,"domain":false,"tickSize":2,"title":null,"orient":"left"}},"x2":{"field":"x2"},"y2":{"field":"y2"}}},
   {"data":{"values":[{"x":4.1,"y":0.35},{"x":3.8,"y":0.05}]},"mark":"point","encoding":{"x":{"field":"x","type":"quantitative","axis":null},"y":{"field":"y","type":"quantitative","axis":null}}},
   {"data":{"values":[{"x":4.7,"y":0.71,"s":"CSL"},{"x":6.8,"y":0.54,"s":"100% N₂"},{"x":9.0,"y":0.3,"s":"NIEDDA"}]},"mark":{"type":"text","align":"left","fontSize":7,"fontWeight":"bold"},"encoding":{"x":{"field":"x","type":"quantitative","axis":null},"y":{"field":"y","type":"quantitative","axis":null},"text":{"field":"s"}}},
   {"data":{"values":[{"x":21.5,"y":0.71,"s":"SM"}]},"mark":{"type":"text","fontSize":11,"fontWeight":"bold"},"encoding":{"x":{"field":"x","type":"quantitative","axis":null},"y":{"field":"y","type":"quantitative","axis":null},"text":{"field":"s"}}}
  ]},
  {"width":168,"height":121,"title":{"text":"H","dy":43},"resolve":{"axis":{"x":"independent","y":"independent"}},"layer":[
   {"data":{"name":"curves"},"transform":[{"filter":"datum.c=='n2'||datum.c=='ni3'"}],"mark":{"type":"line","color":"#808080","strokeWidth":1.1},"encoding":{"x":{"field":"t","type":"quantitative","scale":{"domain":[0,43.5],"nice":false},"axis":{"values":[0,10,20,30,40],"format":"d","title":"Time (µs)","titlePadding":0}},"y":{"field":"v","type":"quantitative","scale":{"domain":[0,1],"nice":false,"range":[121,47]},"axis":{"values":[0,0.2,0.4,0.6,0.8,1],"format":".1f","title":null}},"detail":{"field":"c"}}},
   {"data":{"values":[{"x":6.1,"y":0.5,"x2":3.4,"y2":0.34},{"x":8.5,"y":0.27,"x2":3.5,"y2":0.05}]},"mark":{"type":"rule","color":"#000","strokeWidth":0.8},"encoding":{"x":{"field":"x","type":"quantitative","axis":{"values":[5,15,25,35],"labels":false,"domain":false,"tickSize":2,"title":null,"orient":"bottom"}},"y":{"field":"y","type":"quantitative","axis":{"values":[0.1,0.3,0.5,0.7,0.9],"labels":false,"domain":false,"tickSize":2,"title":null,"orient":"left"}},"x2":{"field":"x2"},"y2":{"field":"y2"}}},
   {"data":{"values":[{"x":3.4,"y":0.34},{"x":3.5,"y":0.05}]},"mark":"point","encoding":{"x":{"field":"x","type":"quantitative","axis":null},"y":{"field":"y","type":"quantitative","axis":null}}},
   {"data":{"values":[{"x":4.2,"y":0.71,"s":"CSL"},{"x":6.1,"y":0.54,"s":"100% N₂"},{"x":8.5,"y":0.29,"s":"NIEDDA"}]},"mark":{"type":"text","align":"left","fontSize":7,"fontWeight":"bold"},"encoding":{"x":{"field":"x","type":"quantitative","axis":null},"y":{"field":"y","type":"quantitative","axis":null},"text":{"field":"s"}}},
   {"data":{"values":[{"x":23.6,"y":0.71,"s":"POPS"}]},"mark":{"type":"text","fontSize":11,"fontWeight":"bold"},"encoding":{"x":{"field":"x","type":"quantitative","axis":null},"y":{"field":"y","type":"quantitative","axis":null},"text":{"field":"s"}}}
  ]},
  {"width":168,"height":40,"data":{"name":"L2"},"mark":"line","encoding":{"x":{"field":"t","type":"quantitative","scale":{"domain":[0,43.5],"nice":false},"axis":null},"y":{"field":"v","type":"quantitative","scale":{"domain":[-0.02,0.02],"nice":false,"range":[40,20]},"axis":{"values":[-0.02,0,0.02],"labelExpr":"(datum.value<0?'-':'')+format(abs(datum.value),'.2f')","title":null}}}},
  {"width":168,"height":40,"data":{"name":"L4"},"mark":"line","encoding":{"x":{"field":"t","type":"quantitative","scale":{"domain":[0,43.5],"nice":false},"axis":null},"y":{"field":"v","type":"quantitative","scale":{"domain":[-0.03,0.03],"nice":false,"range":[40,20]},"axis":{"values":[-0.03,0,0.03],"labelExpr":"(datum.value<0?'-':'')+format(abs(datum.value),'.2f')","title":null}}}},
  {"width":168,"height":40,"data":{"name":"L2"},"mark":"line","encoding":{"x":{"field":"t","type":"quantitative","scale":{"domain":[0,43.5],"nice":false},"axis":null},"y":{"field":"v","type":"quantitative","scale":{"domain":[-0.02,0.02],"nice":false,"range":[40,20]},"axis":{"values":[-0.02,0,0.02],"labelExpr":"(datum.value<0?'-':'')+format(abs(datum.value),'.2f')","title":null}}}},
  {"width":168,"height":40,"data":{"name":"L1"},"mark":"line","encoding":{"x":{"field":"t","type":"quantitative","scale":{"domain":[0,43.5],"nice":false},"axis":null},"y":{"field":"v","type":"quantitative","scale":{"domain":[-0.04,0.04],"nice":false,"range":[40,20]},"axis":{"values":[-0.04,0,0.04],"labelExpr":"(datum.value<0?'-':'')+format(abs(datum.value),'.2f')","title":null}}}},
  {"width":168,"height":29,"data":{"name":"S1"},"transform":[{"filter":"datum.t<=7.5"}],"mark":"line","encoding":{"x":{"field":"t","type":"quantitative","scale":{"domain":[0,43.5],"nice":false},"axis":null},"y":{"field":"v","type":"quantitative","scale":{"domain":[-0.02,0.02],"nice":false,"range":[29,9]},"axis":{"values":[-0.02,0,0.02],"labelExpr":"(datum.value<0?'-':'')+format(abs(datum.value),'.2f')","title":null}}}},
  {"width":168,"height":29,"data":{"name":"S5"},"mark":"line","encoding":{"x":{"field":"t","type":"quantitative","scale":{"domain":[0,43.5],"nice":false},"axis":null},"y":{"field":"v","type":"quantitative","scale":{"domain":[-0.03,0.03],"nice":false,"range":[29,9]},"axis":{"values":[-0.03,0,0.03],"labelExpr":"(datum.value<0?'-':'')+format(abs(datum.value),'.2f')","title":null}}}},
  {"width":168,"height":29,"data":{"name":"S2"},"transform":[{"filter":"datum.t<=8"}],"mark":"line","encoding":{"x":{"field":"t","type":"quantitative","scale":{"domain":[0,43.5],"nice":false},"axis":null},"y":{"field":"v","type":"quantitative","scale":{"domain":[-0.02,0.02],"nice":false,"range":[29,9]},"axis":{"values":[-0.02,0,0.02],"labelExpr":"(datum.value<0?'-':'')+format(abs(datum.value),'.2f')","title":null}}}},
  {"width":168,"height":29,"data":{"name":"W2"},"mark":{"type":"line","strokeWidth":1.1},"encoding":{"x":{"field":"t","type":"quantitative","scale":{"domain":[0,43.5],"nice":false},"axis":null},"y":{"field":"v","type":"quantitative","scale":{"domain":[-0.04,0.04],"nice":false,"range":[29,9]},"axis":{"values":[-0.04,0,0.04],"labelExpr":"(datum.value<0?'-':'')+format(abs(datum.value),'.2f')","title":null}}}},
  {"width":168,"height":29,"data":{"name":"S2"},"transform":[{"filter":"datum.t<=7.5"}],"mark":"line","encoding":{"x":{"field":"t","type":"quantitative","scale":{"domain":[0,43.5],"nice":false},"axis":null},"y":{"field":"v","type":"quantitative","scale":{"domain":[-0.02,0.02],"nice":false,"range":[29,9]},"axis":{"values":[-0.02,0,0.02],"labelExpr":"(datum.value<0?'-':'')+format(abs(datum.value),'.2f')","title":null}}}},
  {"width":168,"height":29,"data":{"name":"S6"},"mark":"line","encoding":{"x":{"field":"t","type":"quantitative","scale":{"domain":[0,43.5],"nice":false},"axis":null},"y":{"field":"v","type":"quantitative","scale":{"domain":[-0.03,0.03],"nice":false,"range":[29,9]},"axis":{"values":[-0.03,0,0.03],"labelExpr":"(datum.value<0?'-':'')+format(abs(datum.value),'.2f')","title":null}}}},
  {"width":168,"height":29,"data":{"name":"S1"},"transform":[{"filter":"datum.t<=8"}],"mark":"line","encoding":{"x":{"field":"t","type":"quantitative","scale":{"domain":[0,43.5],"nice":false},"axis":null},"y":{"field":"v","type":"quantitative","scale":{"domain":[-0.02,0.02],"nice":false,"range":[29,9]},"axis":{"values":[-0.02,0,0.02],"labelExpr":"(datum.value<0?'-':'')+format(abs(datum.value),'.2f')","title":null}}}},
  {"width":168,"height":29,"data":{"name":"S7"},"mark":"line","encoding":{"x":{"field":"t","type":"quantitative","scale":{"domain":[0,43.5],"nice":false},"axis":null},"y":{"field":"v","type":"quantitative","scale":{"domain":[-0.04,0.04],"nice":false,"range":[29,9]},"axis":{"values":[-0.04,0,0.04],"labelExpr":"(datum.value<0?'-':'')+format(abs(datum.value),'.2f')","title":null}}}}
]
}
